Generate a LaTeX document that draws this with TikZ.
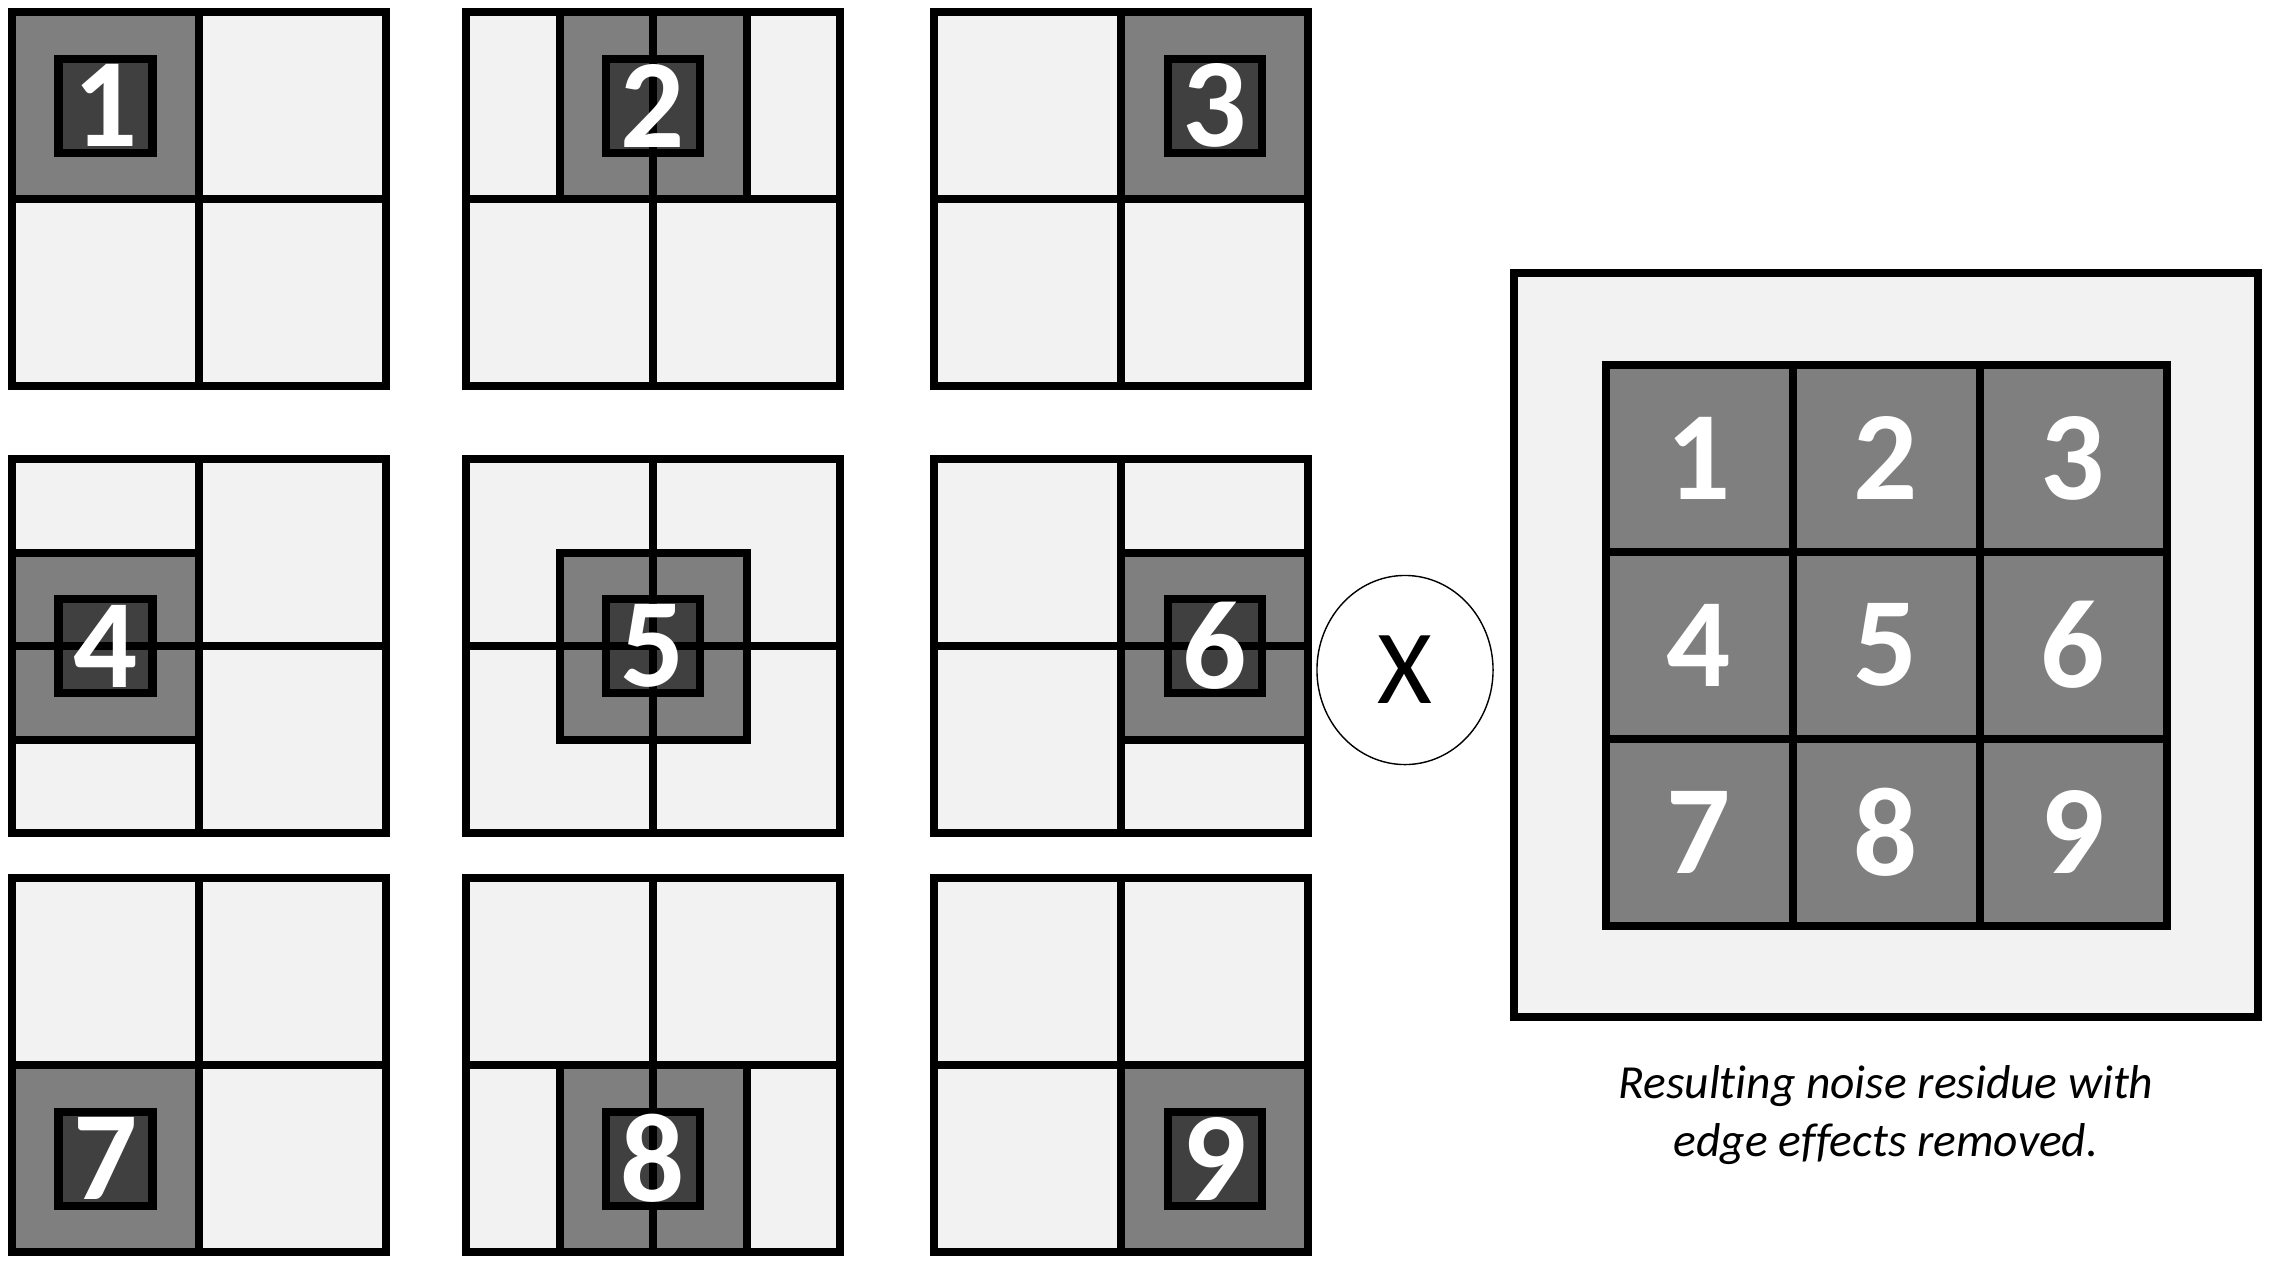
\documentclass[tikz,border=0pt]{standalone}
\usepackage{fontspec}
\setmainfont{Carlito}[Ligatures=NoCommon]
\usetikzlibrary{calc, shapes.geometric}

\definecolor{grisclaro}{HTML}{F2F2F2}
\definecolor{grismedio}{HTML}{7F7F7F}
\definecolor{grisoscuro}{HTML}{404040}

\tikzset{
    borde/.style={draw=black, line width=0.08cm},
    numero/.style={text=white, inner sep=0pt, font=\bfseries\fontsize{36}{36}\selectfont},
}

\begin{document}
\begin{tikzpicture}[x=0.01cm, y=-0.01cm]

    % --- Parámetros globales (en píxeles de la imagen) ---
    \def\lado{374}     % Lado de cada panel
    \def\med{187}      % Mitad del panel = lado de la región sombreada
    \def\nuc{47}       % Semilado del cuadrado oscuro

    % Lienzo
    \fill[white] (0,0) rectangle (2278,1272);
    \useasboundingbox (0,0) rectangle (2278,1272);

    % =========================================================================
    % PARTE IZQUIERDA: Los nueve paneles de ventanas desplazadas
    % =========================================================================
    \foreach \k/\px/\py/\c/\r in {1/12/12/0/0, 2/466/12/1/0, 3/934/12/2/0,
                                  4/12/459/0/1, 5/466/459/1/1, 6/934/459/2/1,
                                  7/12/878/0/2, 8/466/878/1/2, 9/934/878/2/2}{
        \begin{scope}[shift={(\px,\py)}]
            % 1. Fondo del panel
            \fill[grisclaro] (0,0) rectangle (\lado,\lado);

            % 2. Región sombreada (desplazada media celda por paso)
            \filldraw[fill=grismedio, borde] ({\c*\med/2},{\r*\med/2}) rectangle ++(\med,\med);

            % 3. Cuadrado oscuro en el centro de la región
            \coordinate (c\k) at ({\c*\med/2+\med/2},{\r*\med/2+\med/2});
            \filldraw[fill=grisoscuro, borde] ($(c\k)+(-\nuc,-\nuc)$) rectangle ($(c\k)+(\nuc,\nuc)$);

            % 4. Líneas medias y borde exterior
            \draw[borde] (\med,0) -- (\med,\lado);
            \draw[borde] (0,\med) -- (\lado,\med);
            \draw[borde] (0,0) rectangle (\lado,\lado);

            % 5. Número del paso
            \node[numero] (n\k) at (c\k) {\k};
        \end{scope}
    }

    % =========================================================================
    % OPERADOR
    % =========================================================================
    \node[draw, ellipse, line width=0.4pt, inner sep=0pt, minimum width=1.76cm,
          minimum height=1.89cm, font=\fontsize{30}{30}\selectfont] (por) at (1405,670) {X};

    % =========================================================================
    % PARTE DERECHA: Residuo resultante sin efectos de borde
    % =========================================================================
    \begin{scope}[shift={(1886,645)}]
        % 1. Marco exterior
        \filldraw[fill=grisclaro, borde] (-372,-372) rectangle (372,372);

        % 2. Rejilla 3x3
        \foreach \n in {1,...,9}{
            \pgfmathtruncatemacro\col{mod(\n-1,3)}
            \pgfmathtruncatemacro\fila{(\n-1)/3}
            \filldraw[fill=grismedio, borde] ({-1.5*\med+\col*\med},{-1.5*\med+\fila*\med}) rectangle ++(\med,\med);
            \node[numero] (r\n) at ({-\med+\col*\med},{-\med+\fila*\med}) {\n};
        }

        % 3. Leyenda
        \node[align=center, font=\itshape\fontsize{13.5}{16.5}\selectfont] (leyenda) at (0,470)
            {Resulting noise residue with\\edge effects removed.};
    \end{scope}

\end{tikzpicture}
\end{document}
